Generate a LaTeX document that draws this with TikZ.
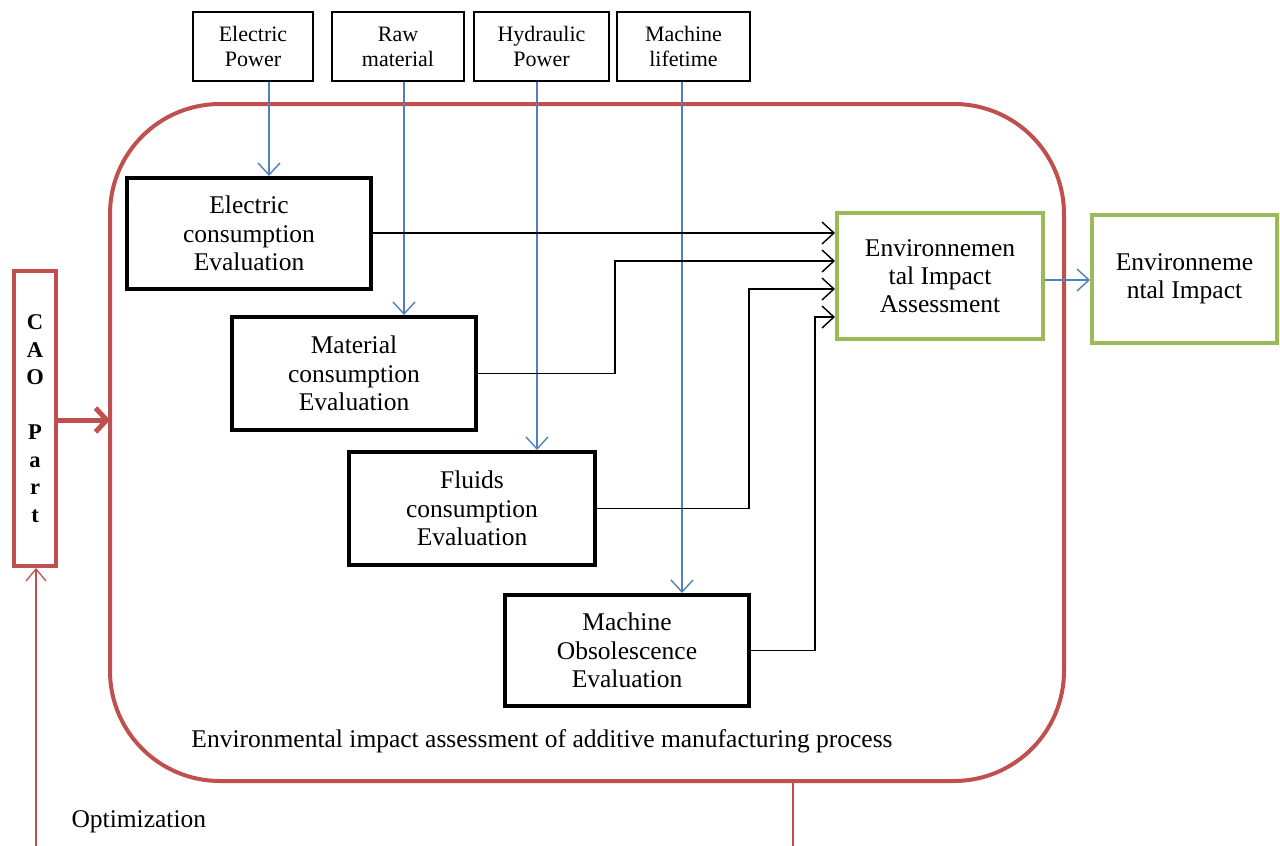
\documentclass[tikz,border=0pt]{standalone}
\usepackage{fontspec}
\setmainfont{Liberation Serif}
\usetikzlibrary{arrows.meta,calc}
\definecolor{redline}{HTML}{C0504D}
\definecolor{greenline}{HTML}{9BBB59}
\definecolor{blueline}{HTML}{4F81BD}
\begin{document}
\begin{tikzpicture}[x=1pt,y=-1pt,
  inbox/.style={draw=black,line width=1.8pt,align=center,inner sep=0pt,
    minimum height=69pt,font=\fontsize{22}{25}\selectfont},
  evalbox/.style={draw=black,line width=4pt,align=center,inner sep=0pt,
    minimum width=244pt,minimum height=111pt,font=\fontsize{25.5}{28.5}\selectfont},
  greenbox/.style={draw=greenline,line width=4pt,align=center,inner sep=0pt,
    font=\fontsize{25.5}{28}\selectfont},
  blk/.style={draw=black,line width=1.4pt,-{Straight Barb[length=12pt,width=22pt]}},
  blu/.style={draw=blueline,line width=1.4pt,-{Straight Barb[length=12pt,width=22pt]}},
  redthin/.style={draw=redline,line width=1.3pt},
]
\useasboundingbox (0,0) rectangle (1280,846);

% outer process frame
\draw[redline,line width=4pt,rounded corners=110pt] (110,104) rectangle (1064,781);
\node[font=\fontsize{25.5}{28}\selectfont,anchor=center] (caption) at (542,741)
  {Environmental impact assessment of additive manufacturing process};

% inputs
\node[inbox,minimum width=120pt] (ep) at (253,46.5) {Electric\\Power};
\node[inbox,minimum width=132pt] (rm) at (398,46.5) {Raw\\material};
\node[inbox,minimum width=135pt] (hp) at (541.5,46.5) {Hydraulic\\Power};
\node[inbox,minimum width=133pt] (ml) at (683.5,46.5) {Machine\\lifetime};

% evaluation steps
\node[evalbox] (ece) at (249,233.5) {Electric\\consumption\\Evaluation};
\node[evalbox,minimum height=113pt] (mce) at (354,373.5) {Material\\consumption\\Evaluation};
\node[evalbox,minimum width=246pt,minimum height=113pt] (fce) at (472,508.5) {Fluids\\consumption\\Evaluation};
\node[evalbox] (moe) at (627,650.5) {Machine\\Obsolescence\\Evaluation};

% assessment and result
\node[greenbox,minimum width=206pt,minimum height=126pt] (eia) at (940,276)
  {Environnemen\\tal Impact\\Assessment};
\node[greenbox,minimum width=185pt,minimum height=128pt] (ei) at (1184.5,279)
  {Environneme\\ntal Impact};

% CAO part
\node[draw=redline,line width=4pt,minimum width=42pt,minimum height=295pt,inner sep=0pt,
  align=center,font=\bfseries\fontsize{22.5}{27.5}\selectfont] (cao) at (35,418.5)
  {C\\A\\O\\[27.5pt]P\\a\\r\\t};

% input feeds
\coordinate (xe) at (269,0);
\coordinate (xr) at (404,0);
\coordinate (xh) at (537,0);
\coordinate (xm) at (682,0);
\draw[blu] (ep.south -| xe) -- (ece.north -| xe);
\draw[blu] (rm.south -| xr) -- (mce.north -| xr);
\draw[blu] (hp.south -| xh) -- (fce.north -| xh);
\draw[blu] (ml.south -| xm) -- (moe.north -| xm);

% results to assessment
\coordinate (j1) at (837,233);
\coordinate (j2) at (615,261);
\coordinate (j3) at (749,289);
\coordinate (j4) at (815,317);
\draw[blk] (ece.east |- j1) -- (eia.west |- j1);
\draw[blk] (mce.east) -| (j2) -- (eia.west |- j2);
\draw[blk] (fce.east) -| (j3) -- (eia.west |- j3);
\draw[blk] (moe.east) -| (j4) -- (eia.west |- j4);
\draw[blu] (eia.east |- 0,280) -- (ei.west |- 0,280);

% CAO part to process
\coordinate (pin) at (110,420);
\draw[redline,line width=5pt,-{Straight Barb[length=11pt,width=24pt]}] (cao.east |- pin) -- (pin);

% optimization loop
\coordinate (lb) at (36,846);
\coordinate (rb) at (793,846);
\draw[redthin,-{Straight Barb[length=12pt,width=20pt]}] (lb) -- (cao.south -| lb);
\draw[redthin] (793,781) -- (rb);
\node[font=\fontsize{25.5}{28}\selectfont,anchor=west] (opt) at (68,822) {Optimization};
\end{tikzpicture}
\end{document}
